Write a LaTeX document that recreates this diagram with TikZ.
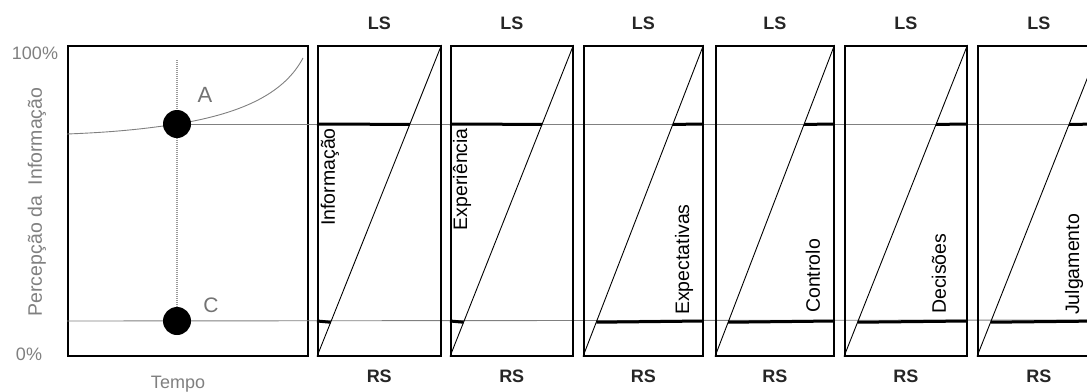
\documentclass[tikz,border=0pt]{standalone}
\usepackage{fontspec}
\setmainfont{Liberation Sans}
\usetikzlibrary{calc}

\begin{document}
\begin{tikzpicture}[x=1pt,y=-1pt,
 panel/.style={draw,line width=1.5pt,minimum width=122pt,minimum height=310pt,inner sep=0pt,anchor=north west},
 stage/.style={panel,label={[side,label distance=15pt]above:LS},label={[side,label distance=13pt]below:RS}},
 side/.style={inner sep=0pt,font=\fontsize{18}{18}\selectfont\bfseries,text=black!85},
 axis/.style={inner sep=0pt,font=\fontsize{18}{18}\selectfont,text=black!50},
 tag/.style={rotate=90,inner sep=0pt,font=\fontsize{19.5}{19.5}\selectfont},
 dot/.style={circle,fill=black,minimum size=28pt,inner sep=0pt},
 level/.style={draw=black!50,line width=0.9pt},
 bar/.style={line width=3pt}]
\useasboundingbox (0,0) rectangle (1087,391);
\clip (0,0) rectangle (1087,391);
% graph on the left
\node[panel,minimum width=240pt] (graph) at (67,45) {};
\coordinate (a) at (177,124);
\coordinate (c) at (177,321);
\coordinate (peak) at (303,58);
\coordinate (vtop) at (177,60);
\coordinate (aend) at (1100,124);
\coordinate (cend) at (1100,320);
\draw[draw=black!40,line width=1.6pt,dash pattern=on 1pt off 1pt] (vtop) -- (c);
\draw[level] (graph.west |- 0,134) .. controls (120,132) and (150,128) .. (a) .. controls (245,113) and (285,92) .. (peak);
\draw[level] (a) -- (aend);
\draw[level] (graph.west |- c) -- (cend);
\node[dot] (A) at (a) {};
\node[dot] (C) at (c) {};
\node[axis,font=\fontsize{22}{22}\selectfont,text=black!55] (labA) at (205,95) {A};
\node[axis,font=\fontsize{21}{21}\selectfont,text=black!55] (labC) at (211,305) {C};
\node[axis] (full) at (35,53) {100\%};
\node[axis] (zero) at (29,354) {0\%};
\node[axis,rotate=90,font=\fontsize{19.5}{19.5}\selectfont] (ylab) at (37,202) {Percepção da\ \ Informação};
\node[axis,anchor=north,font=\fontsize{18}{18}\selectfont] (tempo) at (178,376) {Tempo};
% the six stages
\node[stage,minimum width=123pt] (info) at (317,45) {};
\node[stage] (expe) at (450,45) {};
\node[stage,minimum width=119pt] (expt) at (583,45) {};
\node[stage,minimum width=118pt] (ctrl) at (715,45) {};
\node[stage] (deci) at (844,45) {};
\node[stage] (julg) at (977,45) {};
\draw[line width=0.9pt] (info.south west) -- (info.north east);
\draw[line width=0.9pt] (expe.south west) -- (expe.north east);
\draw[line width=0.9pt] (expt.south west) -- (expt.north east);
\draw[line width=0.9pt] (ctrl.south west) -- (ctrl.north east);
\draw[line width=0.9pt] (deci.south west) -- (deci.north east);
\draw[line width=0.9pt] (julg.south west) -- (julg.north east);
\draw[bar] (info.west |- a) -- ($(info.south west)!0.745!(info.north east)$);
\draw[bar] (info.west |- c) -- ($(info.south west)!0.11!(info.north east)$);
\draw[bar] (expe.west |- a) -- ($(expe.south west)!0.745!(expe.north east)$);
\draw[bar] (expe.west |- c) -- ($(expe.south west)!0.11!(expe.north east)$);
\draw[bar] ($(expt.south west)!0.745!(expt.north east)$) -- (expt.east |- a);
\draw[bar] ($(expt.south west)!0.11!(expt.north east)$) -- (expt.east |- c);
\draw[bar] ($(ctrl.south west)!0.745!(ctrl.north east)$) -- (ctrl.east |- a);
\draw[bar] ($(ctrl.south west)!0.11!(ctrl.north east)$) -- (ctrl.east |- c);
\draw[bar] ($(deci.south west)!0.745!(deci.north east)$) -- (deci.east |- a);
\draw[bar] ($(deci.south west)!0.11!(deci.north east)$) -- (deci.east |- c);
\draw[bar] ($(julg.south west)!0.745!(julg.north east)$) -- (julg.east |- a);
\draw[bar] ($(julg.south west)!0.11!(julg.north east)$) -- (julg.east |- c);
\node[tag,anchor=east] (tinfo) at (330,128) {Informação};
\node[tag,anchor=east] (texpe) at (462,128) {Experiência};
\node[tag,anchor=west] (texpt) at (684,315) {Expectativas};
\node[tag,anchor=west] (tctrl) at (813,313) {Controlo};
\node[tag,anchor=west] (tdeci) at (939,314) {Decisões};
\node[tag,anchor=west] (tjulg) at (1074,315) {Julgamento};
\end{tikzpicture}
\end{document}
